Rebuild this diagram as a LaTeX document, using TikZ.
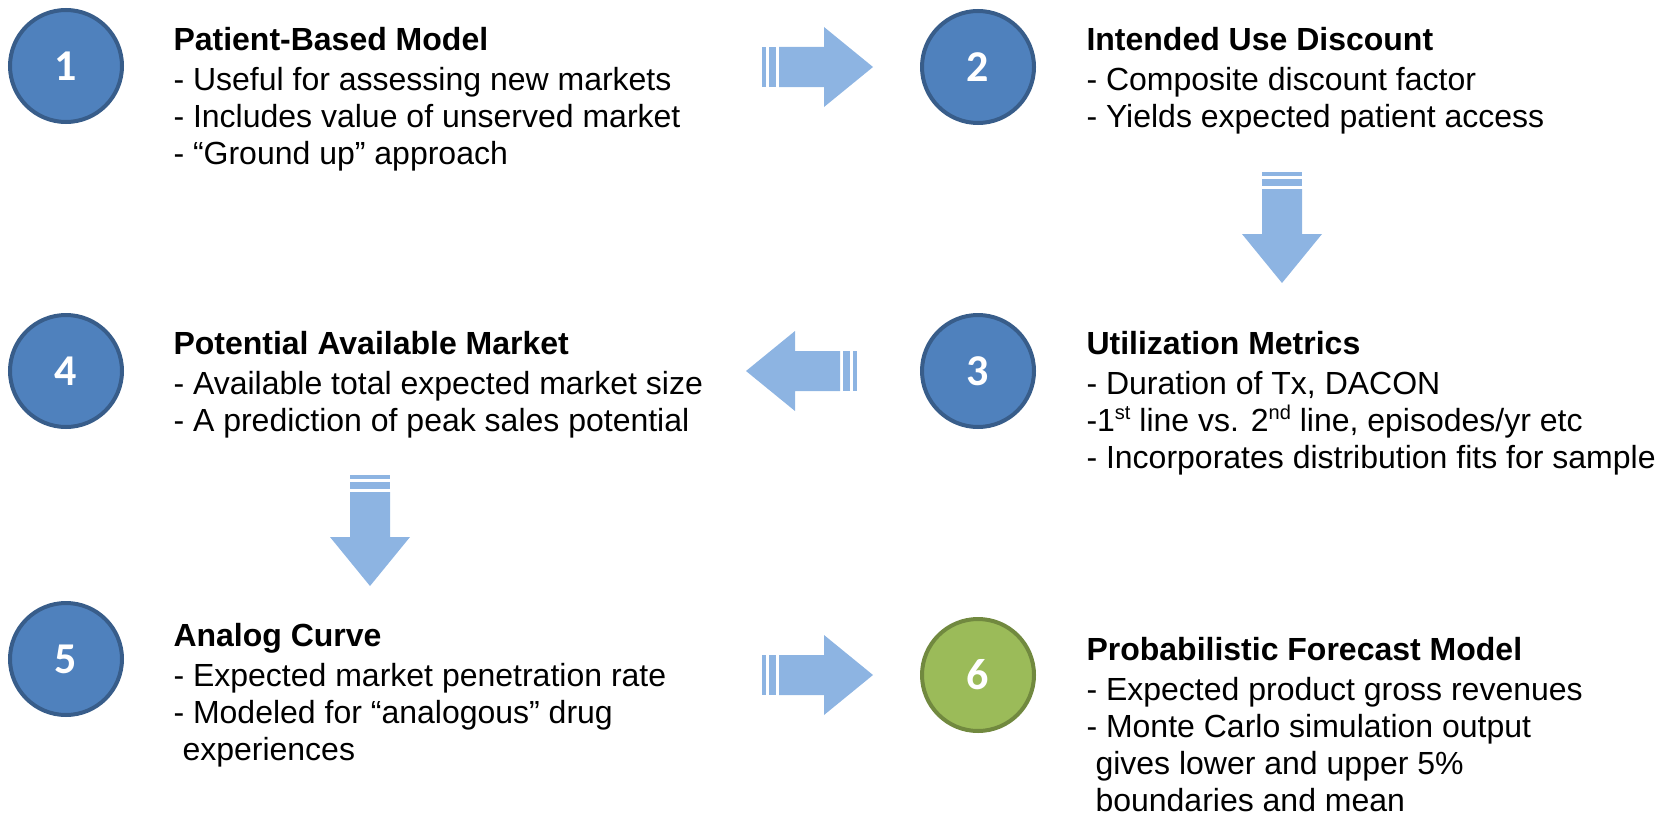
\documentclass[tikz,border=0pt]{standalone}
\usepackage{fontspec}
\setmainfont{Liberation Sans}
\newfontfamily\numfont{Carlito}
\tikzset{every picture/.style={line width=0.75pt}}

\definecolor{stepfill}{RGB}{79,129,189}
\definecolor{stepline}{RGB}{56,93,138}
\definecolor{lastfill}{RGB}{155,187,89}
\definecolor{lastline}{RGB}{113,137,63}
\definecolor{arrowblue}{RGB}{141,180,226}

\tikzset{
  numcircle/.style={circle, draw=stepline, fill=stepfill, line width=3pt,
    minimum size=84pt, inner sep=0pt, text=white,
    font=\numfont\bfseries\fontsize{33}{33}\selectfont},
  lastcircle/.style={numcircle, draw=lastline, fill=lastfill},
  % anchored at the baseline of the last line
  stepnote/.style={anchor=base west, inner sep=0pt, align=left,
    font=\fontsize{24}{27.75}\selectfont},
  flowarrow/.pic={
    \fill[arrowblue] (-17,-20) rectangle (-13,20);
    \fill[arrowblue] (-10,-20) rectangle (-3,20);
    \fill[arrowblue] (0,-20) -- (45,-20) -- (45,-40) -- (94,0) -- (45,40) -- (45,20) -- (0,20) -- cycle;
  }
}
\newcommand{\contline}{\hspace*{6.75pt}}
\newcommand{\ordsup}[1]{\raisebox{0.36em}{\fontsize{15}{15}\selectfont #1}}

\begin{document}
\begin{tikzpicture}[x=0.75pt,y=0.75pt,yscale=-1,xscale=1]
\useasboundingbox (0,0) rectangle (1669,817);

%Shape: Circle
\node[numcircle] (n1) at (66,66) {1};
\node[numcircle] (n2) at (978,67) {2};
\node[numcircle] (n3) at (978,371) {3};
\node[numcircle] (n4) at (66,371) {4};
\node[numcircle] (n5) at (66,659) {5};
\node[lastcircle] (n6) at (978,675) {6};

%Block Arrows
\pic (a12) at (779,67) {flowarrow};
\pic[rotate=-90] (a23) at (1282,189) {flowarrow};
\pic[rotate=180] (a34) at (840,371) {flowarrow};
\pic[rotate=-90] (a45) at (370,492) {flowarrow};
\pic (a56) at (779,675) {flowarrow};

% Text Node
\node[stepnote] (t1) at (173,164) {\textbf{Patient-Based Model}\\[2.25pt]
  - Useful for assessing new markets\\
  - Includes value of unserved market\\
  - “Ground up” approach};
% Text Node
\node[stepnote] (t2) at (1086,127) {\textbf{Intended Use Discount}\\[2.25pt]
  - Composite discount factor\\
  - Yields expected patient access};
% Text Node
\node[stepnote] (t3) at (1086,468) {\textbf{Utilization Metrics}\\[2.25pt]
  - Duration of Tx, DACON\\
  -1\ordsup{st} line vs. 2\ordsup{nd} line, episodes/yr etc\\
  - Incorporates distribution fits for sample};
% Text Node
\node[stepnote] (t4) at (173,431) {\textbf{Potential Available Market}\\[2.25pt]
  - Available total expected market size\\
  - A prediction of peak sales potential};
% Text Node
\node[stepnote] (t5) at (173,760) {\textbf{Analog Curve}\\[2.25pt]
  - Expected market penetration rate\\
  - Modeled for “analogous” drug\\
  \contline experiences};
% Text Node
\node[stepnote] (t6) at (1086,811) {\textbf{Probabilistic Forecast Model}\\[2.25pt]
  - Expected product gross revenues\\
  - Monte Carlo simulation output\\
  \contline gives lower and upper 5\%\\
  \contline boundaries and mean};
\end{tikzpicture}
\end{document}
